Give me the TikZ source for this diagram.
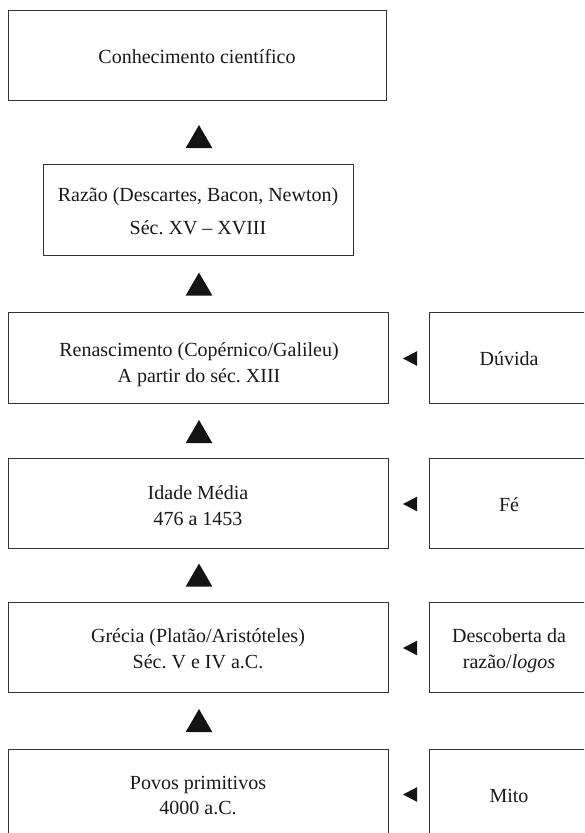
\documentclass[tikz,border=0pt]{standalone}
\usepackage{fontspec}
\setmainfont{Liberation Serif}
\frenchspacing
\begin{document}
\begin{tikzpicture}[x=1pt,y=-1pt,
  box/.style={draw=black!80, line width=1pt, fill=none, inner sep=0pt, outer sep=0pt},
  txt/.style={anchor=base, inner sep=0pt, text=black!90, font=\fontsize{20}{26}\selectfont},
  uptri/.pic={\fill[black!92] (0,-11.5) -- (13.3,11.5) -- (-13.3,11.5) -- cycle;},
  lftri/.pic={\fill[black!92] (-7,0) -- (7,-7.3) -- (7,7.3) -- cycle;}
]
\useasboundingbox (0,0) rectangle (584,833);
\clip (0,0) rectangle (584,833);
% main column
\node[box, minimum width=378, minimum height=90] (b1) at (197,55) {};
\node[box, minimum width=310, minimum height=91] (b2) at (198,209.5) {};
\node[box, minimum width=380, minimum height=91] (b3) at (198,357.5) {};
\node[box, minimum width=380, minimum height=90] (b4) at (198,503) {};
\node[box, minimum width=380, minimum height=90] (b5) at (198,647) {};
\node[box, minimum width=380, minimum height=90] (b6) at (198,794) {};
% right column
\node[box, minimum width=161, minimum height=91] (r3) at (509.5,357.5) {};
\node[box, minimum width=161, minimum height=90] (r4) at (509.5,503) {};
\node[box, minimum width=161, minimum height=90] (r5) at (509.5,647) {};
\node[box, minimum width=161, minimum height=90] (r6) at (509.5,794) {};
% texts
\node[txt] (t1) at (197,63) {Conhecimento científico};
\node[txt] (t2a) at (198,201) {Razão (Descartes, Bacon, Newton)};
\node[txt] (t2b) at (198,234) {Séc. XV – XVIII};
\node[txt] (t3a) at (199,356) {Renascimento (Copérnico/Galileu)};
\node[txt] (t3b) at (199,382) {A partir do séc. XIII};
\node[txt] (t4a) at (198,499) {Idade Média};
\node[txt] (t4b) at (198,525) {476 a 1453};
\node[txt] (t5a) at (198,642) {Grécia (Platão/Aristóteles)};
\node[txt] (t5b) at (198,668) {Séc. V e IV a.C.};
\node[txt] (t6a) at (198,789) {Povos primitivos};
\node[txt] (t6b) at (198,814) {4000 a.C.};
\node[txt] (s3) at (509,365.5) {Dúvida};
\node[txt] (s4) at (509,511) {Fé};
\node[txt] (s5a) at (509,642) {Descoberta da};
\node[txt] (s5b) at (509,668) {razão/\textit{logos}};
\node[txt] (s6) at (509,802) {Mito};
% up triangles
\pic at (199,136.5) {uptri};
\pic at (199,284) {uptri};
\pic at (199,431.5) {uptri};
\pic at (199,575) {uptri};
\pic at (199,720.5) {uptri};
% left triangles
\pic at (410,358.5) {lftri};
\pic at (410,504) {lftri};
\pic at (410,648) {lftri};
\pic at (410,794.5) {lftri};
\end{tikzpicture}
\end{document}
